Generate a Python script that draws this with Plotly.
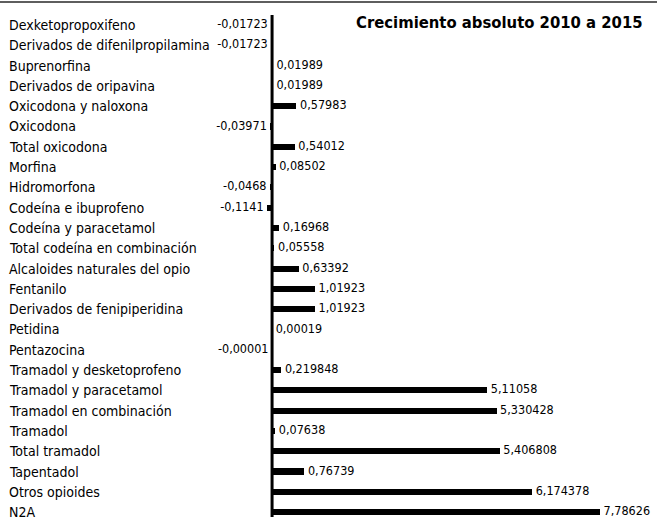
import plotly.graph_objects as go

categories = [
    "Dexketopropoxifeno", "Derivados de difenilpropilamina", "Buprenorfina",
    "Derivados de oripavina", "Oxicodona y naloxona", "Oxicodona",
    "Total oxicodona", "Morfina", "Hidromorfona", "Codeína e ibuprofeno",
    "Codeína y paracetamol", "Total codeína en combinación",
    "Alcaloides naturales del opio", "Fentanilo", "Derivados de fenipiperidina",
    "Petidina", "Pentazocina", "Tramadol y desketoprofeno",
    "Tramadol y paracetamol", "Tramadol en combinación", "Tramadol",
    "Total tramadol", "Tapentadol", "Otros opioides", "N2A",
]
values = [
    -0.01723, -0.01723, 0.01989, 0.01989, 0.57983, -0.03971, 0.54012, 0.08502,
    -0.0468, -0.1141, 0.16968, 0.05558, 0.63392, 1.01923, 1.01923, 0.00019,
    -0.00001, 0.219848, 5.11058, 5.330428, 0.07638, 5.406808, 0.76739,
    6.174378, 7.78626,
]
value_labels = [str(v).replace(".", ",") for v in values]
value_labels[16] = "-0,00001"

font_family = "DejaVu Sans Condensed, sans-serif"
idx = list(range(len(categories)))
x_range = [-6.46, 9.14]
y_range = [24.24, -1.23]

fig = go.Figure(go.Bar(
    x=values,
    y=idx,
    orientation="h",
    width=0.3,
    marker=dict(color="black", line_width=0),
    hoverinfo="skip",
))

# value labels: right of positive bars, left of negative ones
fig.add_trace(go.Scatter(
    x=values,
    y=idx,
    mode="text",
    text=[" " + t if v >= 0 else t + " " for t, v in zip(value_labels, values)],
    textposition=["middle right" if v >= 0 else "middle left" for v in values],
    textfont=dict(family=font_family, size=12.5, color="black"),
    cliponaxis=False,
    hoverinfo="skip",
))

# thin grey rule across the top
fig.add_trace(go.Scatter(
    x=x_range,
    y=[-1.13, -1.13],
    mode="lines",
    line=dict(color="#5e5e5e", width=2),
    cliponaxis=False,
    hoverinfo="skip",
))

for i, name in enumerate(categories):
    fig.add_annotation(
        x=0.012, xref="paper", y=i, yref="y", yshift=0, text=name,
        showarrow=False, xanchor="left", yanchor="middle", borderpad=0,
        font=dict(family=font_family, size=14, color="black"),
    )

fig.add_annotation(
    x=0.982, xref="paper", y=0, yref="y", yshift=2,
    text="<b>Crecimiento absoluto 2010 a 2015</b>",
    showarrow=False, xanchor="right", yanchor="middle",
    font=dict(family=font_family, size=16.5, color="black"),
)

# zero axis
fig.add_shape(type="line", xref="x", yref="paper", x0=0, x1=0,
              y0=0, y1=0.971, line=dict(color="black", width=3))

fig.update_layout(
    width=657, height=517,
    margin=dict(l=0, r=0, t=0, b=0, autoexpand=False),
    paper_bgcolor="white",
    plot_bgcolor="white",
    showlegend=False,
    bargap=0,
)
fig.update_xaxes(range=x_range, visible=False, showgrid=False, zeroline=False)
fig.update_yaxes(range=y_range, visible=False, showgrid=False, zeroline=False)

fig.write_html("out.html", config={"displayModeBar": False},
               post_script="document.body.style.margin='0px';")
